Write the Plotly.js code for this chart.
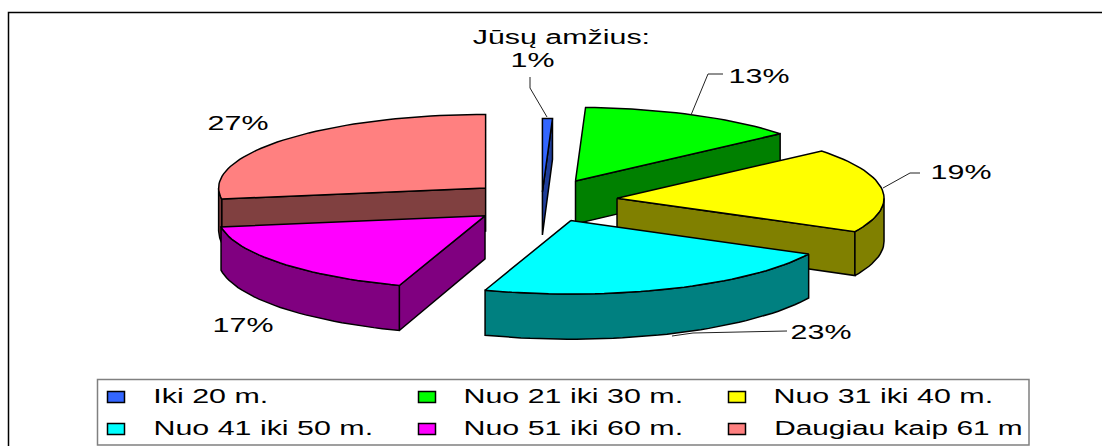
<!DOCTYPE html>
<html>
<head>
<meta charset="utf-8">
<script src="https://cdn.plot.ly/plotly-3.0.1.min.js"></script>
<style>html,body{margin:0;padding:0;background:#fff}#chart{width:1102px;height:446px}</style>
</head>
<body>
<div id="chart"></div>
<script>
// ---- data ----
const categories = ["Iki 20 m.", "Nuo 21 iki 30 m.", "Nuo 31 iki 40 m.", "Nuo 41 iki 50 m.", "Nuo 51 iki 60 m.", "Daugiau kaip 61 m"];
const shares = [0.6, 13.3, 18.6, 22.7, 17.4, 27.4];
const titleText = "Jūsų amžius:";

// ---- style ----
const topColors = ["#3366FF", "#00FF00", "#FFFF00", "#00FFFF", "#FF00FF", "#FF8080"];
const wallColors = ["#1F3D99", "#008000", "#808000", "#008080", "#800080", "#804040"];

// ---- projection of the exploded 3-D pie ----
const W = 1102, H = 446;
const pie = {cx: 541, cy: 203, rx: 267, ry: 73.5, depth: 43, explodeX: 75};
const explodeY = [11, 24.6, 42, 19, 20, 23];
const drawOrder = [5, 1, 0, 2, 4, 3];
const FONT = "Liberation Sans, Arial, sans-serif";
const FS = 20, STRETCH = 1.52;

const rad = d => d * Math.PI / 180;
const total = shares.reduce((a, b) => a + b, 0);
let acc = 0;
const slices = shares.map((v, i) => {
  const a = acc / total * 360; acc += v; const b = acc / total * 360;
  const m = (a + b) / 2;
  return {i, a, b, ox: pie.cx + 1.5 + pie.explodeX * Math.sin(rad(m)) - (i === 0 ? 1.5 : 0), oy: pie.cy - explodeY[i] * Math.cos(rad(m))};
});
const rim = (s, t, dz) => [s.ox + pie.rx * Math.sin(rad(t)),
  s.oy - pie.ry * Math.cos(rad(t)) + (dz || 0) * (1 - 0.05 * Math.cos(rad(t)))];
function arc(s, a, b, dz) {
  const n = Math.max(2, Math.ceil((b - a) / 2)), p = [];
  for (let k = 0; k <= n; k++) p.push(rim(s, a + (b - a) * k / n, dz));
  return p;
}
function poly(points, fill, name) {
  const xs = points.map(p => p[0]).concat(points[0][0]);
  const ys = points.map(p => p[1]).concat(points[0][1]);
  return {type: "scatter", mode: "lines", x: xs, y: ys, fill: "toself", fillcolor: fill,
    line: {color: "#000", width: 1.5, shape: "linear"}, name, hoverinfo: "name", showlegend: false};
}
const traces = [];
drawOrder.forEach(idx => {
  const s = slices[idx], name = categories[idx], wc = wallColors[idx], d = pie.depth;
  const O = [s.ox, s.oy], Od = [s.ox, s.oy + d];
  if (Math.sin(rad(s.a)) < -1e-6) traces.push(poly([O, rim(s, s.a), rim(s, s.a, d), Od], wc, name));
  if (Math.sin(rad(s.b)) > 1e-6) traces.push(poly([O, rim(s, s.b), rim(s, s.b, d), Od], wc, name));
  const fa = Math.max(s.a, 90), fb = Math.min(s.b, 270);
  if (fb > fa) traces.push(poly(arc(s, fa, fb, 0).concat(arc(s, fa, fb, d).reverse()), wc, name));
  traces.push(poly([O].concat(arc(s, s.a, s.b, 0)), topColors[idx], name));
});

// leader lines
const leaders = [
  [[530, 77], [530, 88], [547, 117]],
  [[723, 74], [708, 74], [691, 115]],
  [[920, 173], [910, 173], [883, 188]],
  [[787, 331], [693, 333], [672, 336]]
];
leaders.forEach(l => traces.push({type: "scatter", mode: "lines", x: l.map(p => p[0]), y: l.map(p => p[1]),
  line: {color: "#222", width: 1}, hoverinfo: "skip", showlegend: false}));

// text, with Arial-like glyphs stretched as in the reference
const ctx = document.createElement("canvas").getContext("2d");
ctx.font = FS + "px 'Liberation Sans'";
const widthOf = t => ctx.measureText(t).width;
const annotations = [], stretched = [];
function addText(text, cxp, cyp, factor) {
  annotations.push({text, x: cxp, y: cyp, xref: "x", yref: "y", xanchor: "center", yanchor: "middle",
    showarrow: false, font: {family: FONT, size: FS, color: "#000"}});
  stretched.push(widthOf(text) * (factor || STRETCH));
}
addText(titleText, 561, 37);
const labelPos = [[532, 60], [759, 76], [961, 172], [821, 332], [243, 325], [238, 123]];
shares.forEach((v, i) => addText(Math.round(v) + "%", labelPos[i][0], labelPos[i][1]));

// legend
const legendCols = [{sw: 116, tx: 154}, {sw: 427, tx: 464}, {sw: 737, tx: 774}];
const legendRows = [397, 429];
const legendStretch = [1.52, 1.52, 1.52, 1.52, 1.52, 1.49];
const shapes = [
  {type: "path", path: "M 8.5 446 L 8.5 12.5 L 1102 12.5", line: {color: "#000", width: 1.5}, xref: "x", yref: "y"},
  {type: "rect", x0: 97.5, x1: 1029, y0: 379.5, y1: 445, line: {color: "#808080", width: 1.5}, xref: "x", yref: "y"}
];
categories.forEach((c, i) => {
  const col = legendCols[i % 3], y = legendRows[Math.floor(i / 3)];
  shapes.push({type: "rect", x0: col.sw - 8.5, x1: col.sw + 8.5, y0: y - 5.5, y1: y + 5.5,
    fillcolor: topColors[i], line: {color: "#000", width: 1.5}, xref: "x", yref: "y"});
  addText(c, col.tx + widthOf(c) * legendStretch[i] / 2, y - 1, legendStretch[i]);
});

const axis = {visible: false, fixedrange: true, showgrid: false, zeroline: false};
const layout = {
  width: W, height: H, margin: {l: 0, r: 0, t: 0, b: 0},
  paper_bgcolor: "#fff", plot_bgcolor: "#fff", showlegend: false,
  xaxis: Object.assign({range: [0, W]}, axis),
  yaxis: Object.assign({range: [H, 0]}, axis),
  shapes, annotations
};
Plotly.newPlot("chart", traces, layout, {displayModeBar: false, staticPlot: true}).then(() => {
  document.querySelectorAll("#chart .annotation-text").forEach((el, i) => {
    el.setAttribute("textLength", stretched[i]);
    el.setAttribute("lengthAdjust", "spacingAndGlyphs");
  });
});
</script>
</body>
</html>
